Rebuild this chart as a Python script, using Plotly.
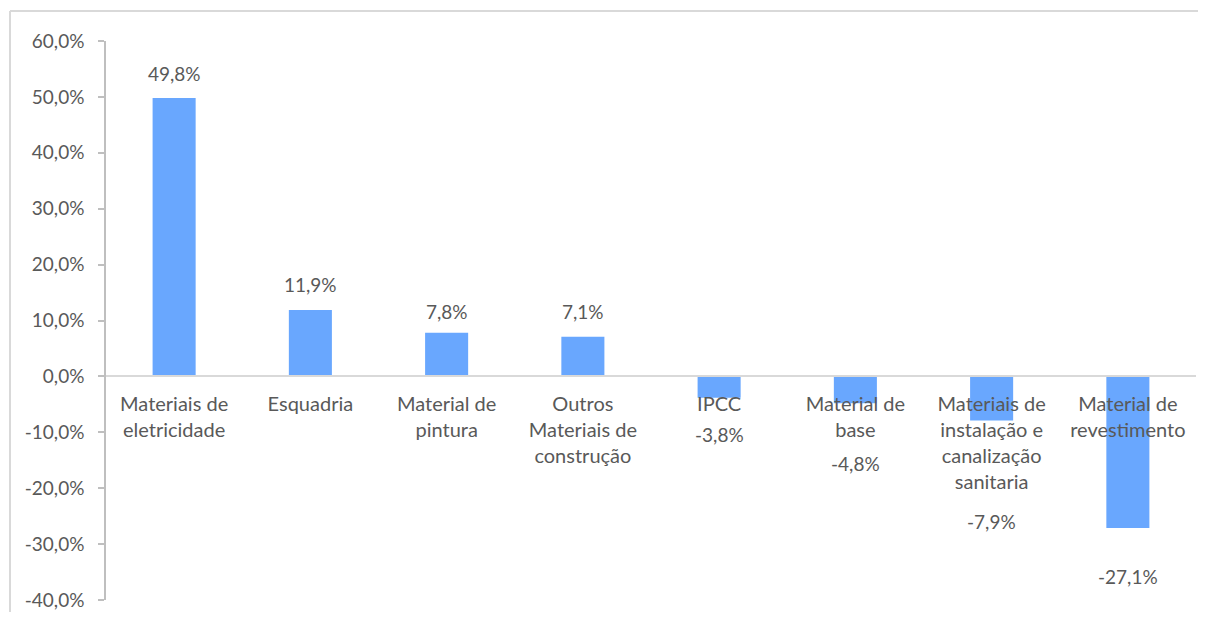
import plotly.graph_objects as go

categories = [
    "Materiais de<br>eletricidade",
    "Esquadria",
    "Material de<br>pintura",
    "Outros<br>Materiais de<br>construção",
    "IPCC",
    "Material de<br>base",
    "Materiais de<br>instalação e<br>canalização<br>sanitaria",
    "Material de<br>revestimento",
]
values = [0.498, 0.119, 0.078, 0.071, -0.038, -0.048, -0.079, -0.271]
value_labels = ["49,8%", "11,9%", "7,8%", "7,1%", "-3,8%", "-4,8%", "-7,9%", "-27,1%"]
tick_vals = [-0.4, -0.3, -0.2, -0.1, 0.0, 0.1, 0.2, 0.3, 0.4, 0.5, 0.6]
tick_text = ["-40,0%", "-30,0%", "-20,0%", "-10,0%", "0,0%", "10,0%",
             "20,0%", "30,0%", "40,0%", "50,0%", "60,0%"]

# pixel offsets of the data labels from the bar ends (styling)
label_offsets = [25, 25, 21, 25, -37, -60, -101, -49]

FONT = "Lato"
TXT = "#595959"
BAR = "#69A7FE"

# page body has an 8px margin; figure sized/offset to compensate
W, H = 1190, 604
L, T = 98, 33
PW, PH = 1090, 559

fig = go.Figure(go.Bar(
    x=list(range(len(categories))),
    y=values,
    marker=dict(color=BAR, line=dict(width=0)),
    width=0.316,
    hoverinfo="skip",
))

for i, (v, lab, off) in enumerate(zip(values, value_labels, label_offsets)):
    fig.add_annotation(x=i, y=v, text=lab, showarrow=False, yanchor="middle",
                       yshift=off, font=dict(family=FONT, size=19, color=TXT))

# chart-area border (left and top edges visible)
bx0 = (2 - L) / PW
bx1 = (W - L) / PW
by0 = -(H - T - PH) / PH
by1 = 1 + (T - 3) / PH
fig.add_shape(type="line", xref="paper", yref="paper",
              x0=bx0, x1=bx0, y0=by0, y1=by1,
              line=dict(color="#D9D9D9", width=2), layer="below")
fig.add_shape(type="line", xref="paper", yref="paper",
              x0=bx0, x1=bx1, y0=by1, y1=by1,
              line=dict(color="#D9D9D9", width=2), layer="below")

fig.update_layout(
    width=W, height=H,
    margin=dict(l=L, r=W - L - PW, t=T, b=H - T - PH, autoexpand=False),
    paper_bgcolor="white", plot_bgcolor="white",
    showlegend=False,
    font=dict(family=FONT, size=19, color=TXT),
    xaxis=dict(
        range=[-0.5, len(categories) - 0.5],
        tickmode="array",
        tickvals=list(range(len(categories))),
        ticktext=categories,
        anchor="free", position=0.4,
        showline=True, linecolor="#D9D9D9", linewidth=1.5,
        ticks="", showgrid=False, zeroline=False,
        tickfont=dict(family=FONT, size=20, color=TXT),
        ticklabelstandoff=10,
        automargin=False,
    ),
    yaxis=dict(
        range=[-0.4, 0.6],
        tickmode="array", tickvals=tick_vals, ticktext=tick_text,
        showline=True, linecolor="#BFBFBF", linewidth=1.5,
        ticks="outside", ticklen=6, tickcolor="#BFBFBF", tickwidth=1.5,
        showgrid=False, zeroline=False,
        tickfont=dict(family=FONT, size=19, color=TXT),
        ticklabelstandoff=10,
        automargin=False,
    ),
)

fig.write_html("out.html", config={"displayModeBar": False})
